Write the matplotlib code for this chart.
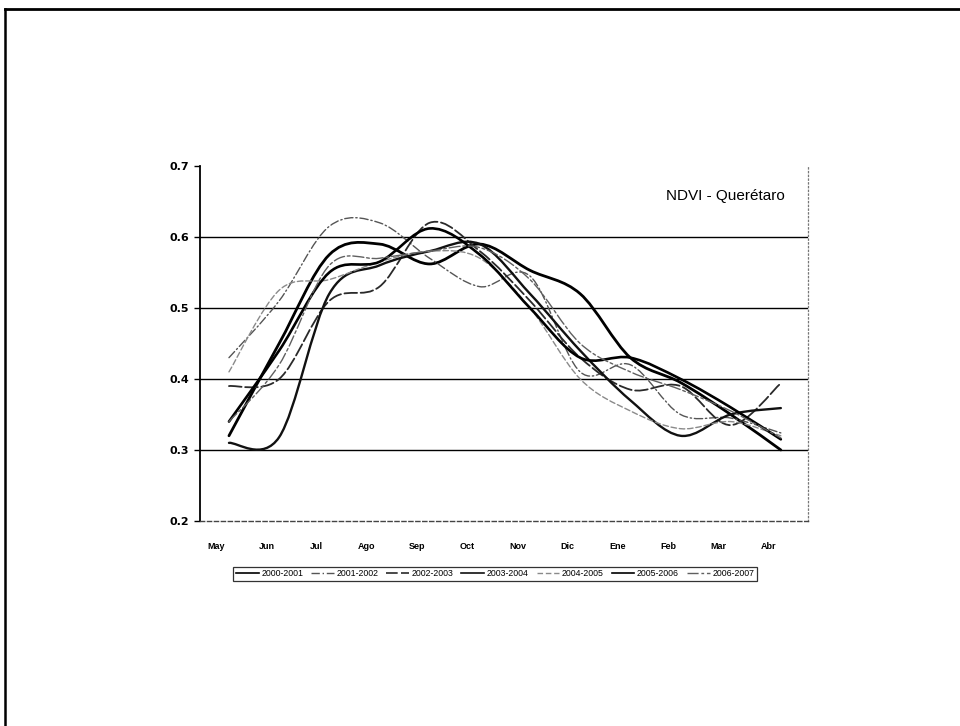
import matplotlib
matplotlib.use("Agg")
import matplotlib.pyplot as plt
from matplotlib.path import Path
from matplotlib.patches import PathPatch
from matplotlib.lines import Line2D

# ---------------- data ----------------
months = ["May", "Jun", "Jul", "Ago", "Sep", "Oct", "Nov", "Dic", "Ene", "Feb", "Mar", "Abr"]
s2000_2001 = [0.32, 0.45, 0.575, 0.59, 0.562, 0.59, 0.553, 0.52, 0.43, 0.395, 0.35, 0.30]
s2001_2002 = [0.43, 0.51, 0.615, 0.62, 0.57, 0.53, 0.545, 0.41, 0.42, 0.35, 0.345, 0.324]
s2002_2003 = [0.39, 0.40, 0.51, 0.53, 0.62, 0.58, 0.51, 0.43, 0.385, 0.39, 0.335, 0.394]
s2003_2004 = [0.31, 0.318, 0.52, 0.56, 0.58, 0.59, 0.52, 0.44, 0.37, 0.32, 0.35, 0.359]
s2004_2005 = [0.41, 0.525, 0.54, 0.565, 0.58, 0.57, 0.50, 0.40, 0.355, 0.33, 0.34, 0.32]
s2005_2006 = [0.34, 0.44, 0.55, 0.565, 0.612, 0.575, 0.50, 0.43, 0.43, 0.40, 0.36, 0.315]
s2006_2007 = [0.34, 0.42, 0.56, 0.57, 0.58, 0.585, 0.54, 0.45, 0.41, 0.385, 0.355, 0.317]
series_names = ["2000-2001", "2001-2002", "2002-2003", "2003-2004",
                "2004-2005", "2005-2006", "2006-2007"]
series_values = [s2000_2001, s2001_2002, s2002_2003, s2003_2004,
                 s2004_2005, s2005_2006, s2006_2007]
y_ticks = [0.2, 0.3, 0.4, 0.5, 0.6, 0.7]
title_text = "NDVI - Querétaro"

# ---------------- styles ----------------
styles = [
    dict(color="#000000", lw=2.0, ls="-"),
    dict(color="#555555", lw=1.0, ls=(0, (6, 2, 1, 2))),
    dict(color="#2a2a2a", lw=1.3, ls=(0, (7, 2))),
    dict(color="#111111", lw=1.7, ls="-"),
    dict(color="#8a8a8a", lw=1.0, ls=(0, (4, 2))),
    dict(color="#000000", lw=1.9, ls="-"),
    dict(color="#606060", lw=1.0, ls=(0, (8, 2, 2, 2))),
]

plt.rcParams["font.family"] = ["DejaVu Sans"]

fig = plt.figure(figsize=(9.6, 7.26), dpi=100)
fig.patch.set_facecolor("white")
ax = fig.add_axes([0.2083, 0.2824, 0.6333, 0.4890])


def smooth_path(xs, ys):
    """Excel-style smoothed line: cubic Bezier through the data points."""
    n = len(xs)
    verts = [(xs[0], ys[0])]
    codes = [Path.MOVETO]
    for i in range(n - 1):
        x0, y0 = xs[max(i - 1, 0)], ys[max(i - 1, 0)]
        x1, y1 = xs[i], ys[i]
        x2, y2 = xs[i + 1], ys[i + 1]
        x3, y3 = xs[min(i + 2, n - 1)], ys[min(i + 2, n - 1)]
        c1 = (x1 + (x2 - x0) / 6.0, y1 + (y2 - y0) / 6.0)
        c2 = (x2 - (x3 - x1) / 6.0, y2 - (y3 - y1) / 6.0)
        verts += [c1, c2, (x2, y2)]
        codes += [Path.CURVE4] * 3
    return Path(verts, codes)


xs = list(range(len(months)))
handles = []
for name, vals, st in zip(series_names, series_values, styles):
    patch = PathPatch(smooth_path(xs, vals), facecolor="none", edgecolor=st["color"],
                      lw=st["lw"], linestyle=st["ls"], capstyle="round", zorder=3)
    ax.add_patch(patch)
    handles.append(Line2D([], [], color=st["color"], lw=min(st["lw"], 1.2),
                          ls=st["ls"], label=name))

ax.set_xlim(-0.578, 11.54)
ax.set_ylim(0.2, 0.7)
ax.set_yticks(y_ticks)
ax.set_yticklabels([f"{v:.1f}" for v in y_ticks], fontsize=8, fontweight="bold")
ax.set_xticks([x - 0.25 for x in xs])
ax.set_xticklabels(months, fontsize=6.5, fontweight="bold", family="Liberation Sans")
ax.tick_params(axis="x", length=0, pad=15)
ax.tick_params(axis="y", length=4, width=1, direction="out", pad=4)

for v in [0.3, 0.4, 0.5, 0.6]:
    ax.axhline(v, color="black", lw=1.0, zorder=1)

ax.spines["top"].set_visible(False)
ax.spines["left"].set_linewidth(1.3)
ax.spines["bottom"].set_color("#444444")
ax.spines["bottom"].set_linestyle((0, (3, 2)))
ax.spines["bottom"].set_linewidth(1.0)
ax.spines["right"].set_color("#777777")
ax.spines["right"].set_linestyle((0, (1, 2)))
ax.spines["right"].set_linewidth(0.9)

fig.text(785 / 960, 1 - 196 / 726, title_text, ha="right", va="center",
         fontsize=11, family="Liberation Sans")

leg = fig.legend(handles=handles, loc="center", bbox_to_anchor=(495 / 960, 1 - 574 / 726),
                 ncol=7, frameon=True, fancybox=False, handlelength=2.6,
                 handletextpad=0.3, columnspacing=0.9, borderpad=0.3,
                 prop={"family": "Liberation Sans", "size": 6.3})
leg.get_frame().set_edgecolor("black")
leg.get_frame().set_linewidth(0.9)

# outer frame (top and left edges of the page border)
fig.add_artist(Line2D([5 / 960, 1.0], [1 - 9 / 726, 1 - 9 / 726],
                      transform=fig.transFigure, color="black", lw=2.0))
fig.add_artist(Line2D([5 / 960, 5 / 960], [0.0, 1 - 9 / 726],
                      transform=fig.transFigure, color="black", lw=1.8))

fig.savefig("out.png", dpi=100, facecolor="white")
